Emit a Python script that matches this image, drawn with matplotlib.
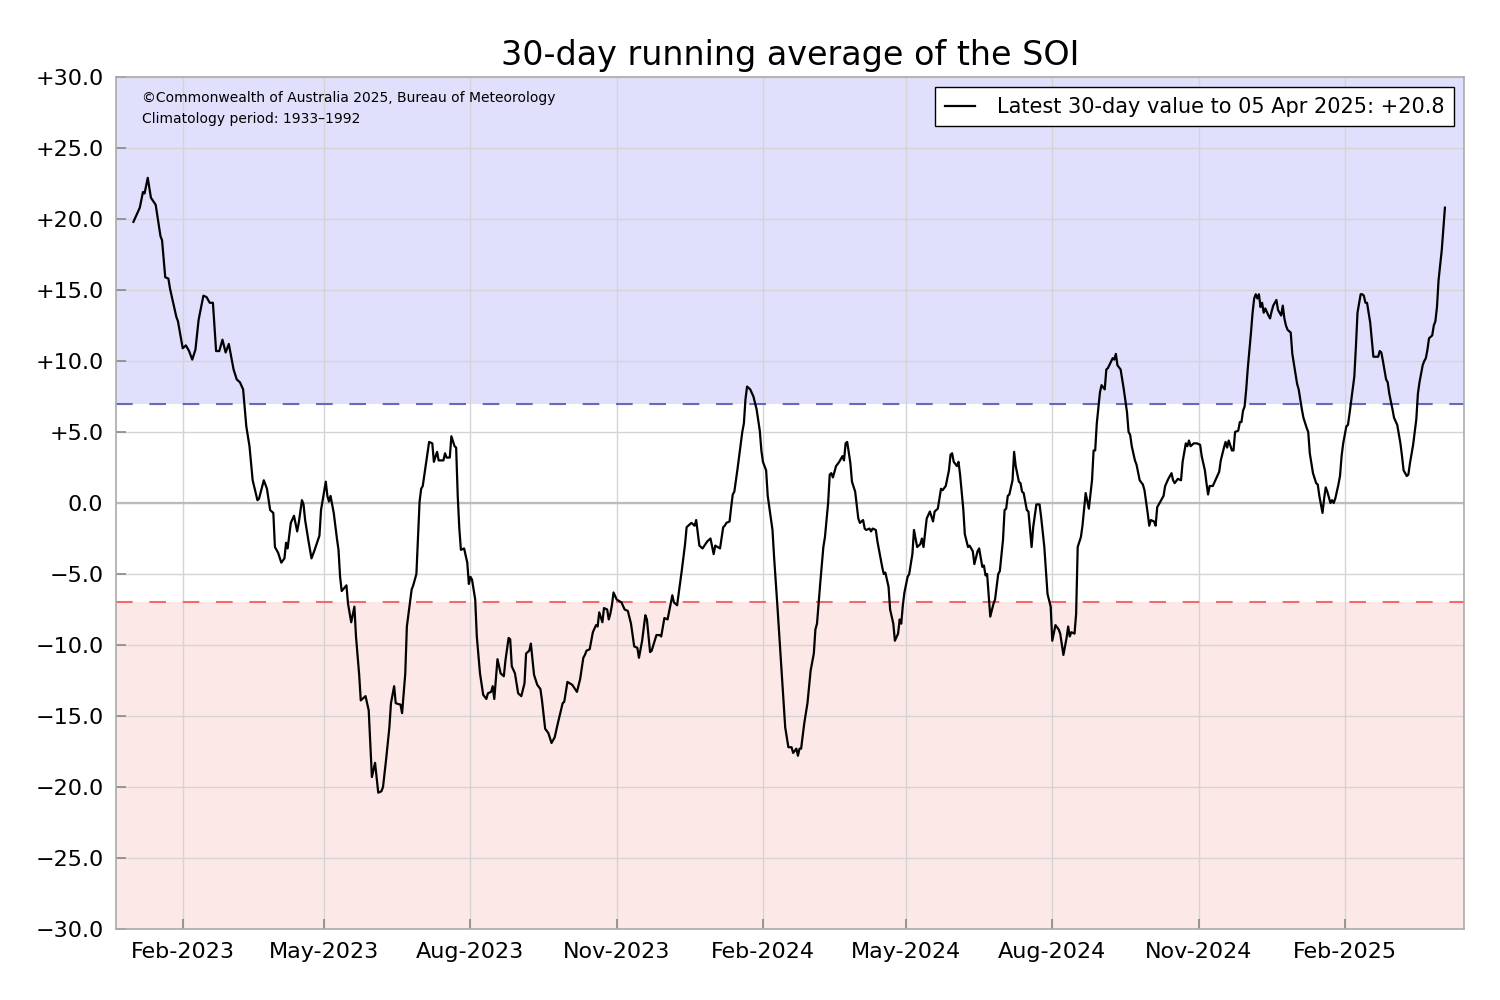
import numpy as np
import pandas as pd
import matplotlib
matplotlib.use("Agg")
import matplotlib.pyplot as plt
import matplotlib.dates as mdates
from matplotlib.ticker import FuncFormatter, MultipleLocator

# 30-day SOI (days counted from 1 Jan 2023)
start = pd.Timestamp("2023-01-01")
day = [0, 4, 6, 7, 9, 11, 14, 17, 18, 20, 22, 23, 27, 28, 31, 33, 35, 37, 39, 41,
       44, 46, 48, 50, 52, 54, 56, 58, 60, 63, 65, 67, 69, 71, 73, 75, 78, 79, 82, 84,
       86, 88, 89, 91, 93, 95, 96, 97, 99, 101, 103, 104, 106, 107, 108, 110, 112, 114, 117, 118,
       121, 122, 123, 124, 126, 128, 129, 130, 131, 134, 135, 137, 139, 140, 142, 143, 146, 148, 150, 152,
       154, 156, 157, 159, 161, 162, 164, 165, 168, 169, 171, 172, 175, 176, 178, 180, 181, 182, 186, 188,
       189, 191, 192, 195, 196, 197, 199, 200, 202, 203, 204, 205, 206, 208, 210, 211, 212, 213, 215, 216,
       218, 220, 222, 223, 225, 226, 227, 229, 231, 233, 234, 236, 237, 238, 240, 242, 244, 246, 247, 249,
       250, 252, 254, 256, 257, 259, 261, 263, 265, 267, 270, 271, 273, 276, 279, 281, 283, 284, 285, 287,
       289, 291, 292, 293, 295, 296, 298, 299, 300, 301, 302, 304, 307, 309, 311, 313, 315, 317, 318, 320,
       322, 323, 325, 326, 329, 331, 332, 334, 336, 339, 340, 342, 345, 346, 347, 348, 351, 353, 354, 356,
       358, 361, 363, 365, 366, 369, 371, 372, 373, 375, 376, 377, 378, 380, 383, 384, 385, 386, 388, 390,
       392, 394, 395, 396, 398, 399, 402, 403, 405, 407, 409, 410, 412, 414, 415, 417, 418, 419, 420, 422,
       424, 426, 428, 429, 430, 432, 434, 435, 437, 438, 439, 440, 442, 444, 446, 447, 448, 449, 451, 452,
       454, 456, 457, 459, 460, 461, 463, 464, 465, 467, 468, 469, 471, 472, 473, 475, 476, 478, 479, 481,
       482, 483, 484, 485, 487, 488, 490, 491, 493, 495, 496, 497, 499, 501, 503, 504, 506, 508, 509, 511,
       513, 514, 515, 516, 518, 519, 520, 522, 523, 525, 526, 528, 529, 531, 532, 534, 535, 536, 537, 539,
       541, 542, 544, 545, 547, 548, 549, 550, 551, 553, 554, 555, 557, 558, 559, 560, 562, 563, 565, 566,
       568, 570, 571, 573, 575, 577, 578, 580, 582, 583, 585, 587, 588, 589, 590, 592, 593, 594, 596, 597,
       599, 601, 603, 604, 605, 606, 608, 609, 611, 612, 613, 616, 617, 618, 619, 621, 623, 625, 626, 627,
       628, 630, 631, 633, 635, 636, 638, 639, 640, 642, 643, 644, 646, 648, 649, 651, 653, 654, 655, 657,
       659, 660, 662, 663, 664, 665, 667, 669, 671, 672, 674, 675, 676, 677, 679, 681, 683, 684, 686, 687,
       688, 689, 691, 692, 693, 695, 696, 697, 698, 699, 700, 701, 703, 704, 705, 706, 707, 708, 709, 710,
       711, 712, 714, 715, 716, 717, 719, 720, 722, 723, 724, 725, 726, 728, 729, 732, 733, 735, 736, 738,
       739, 740, 742, 744, 745, 746, 748, 749, 750, 751, 753, 754, 755, 756, 758, 759, 760, 761, 763, 764,
       765, 767, 768, 769, 770, 772, 773, 774, 775, 776, 778, 780, 782, 783, 784, 785, 786, 788, 789, 790,
       792, 793, 795, 797, 798, 799, 801, 802, 803, 805, 807, 808, 809, 811, 812, 813, 814, 815, 817, 818,
       819, 820, 821, 823, 825]
soi = [19.8, 20.8, 21.9, 21.8, 22.9, 21.5, 21.0, 18.8, 18.5, 15.9, 15.8, 15.1, 13.1, 12.8, 10.9, 11.1, 10.7, 10.1, 10.8, 12.9,
       14.6, 14.5, 14.1, 14.1, 10.7, 10.7, 11.5, 10.6, 11.2, 9.4, 8.7, 8.5, 8.0, 5.4, 4.0, 1.6, 0.2, 0.3, 1.6, 1.0,
       -0.5, -0.7, -3.1, -3.5, -4.2, -3.9, -2.8, -3.2, -1.4, -0.9, -2.0, -1.4, 0.2, -0.1, -1.2, -2.6, -3.9, -3.3, -2.3, -0.5,
       1.5, 0.5, 0.1, 0.5, -0.7, -2.5, -3.3, -5.2, -6.2, -5.8, -7.1, -8.4, -7.3, -9.4, -12.1, -13.9, -13.6, -14.6, -19.3, -18.3,
       -20.4, -20.3, -20.0, -18.0, -15.8, -14.1, -12.9, -14.1, -14.2, -14.8, -12.0, -8.7, -6.1, -5.8, -5.0, 0.1, 1.0, 1.2, 4.3, 4.2,
       2.9, 3.6, 3.0, 3.0, 3.5, 3.2, 3.2, 4.7, 4.0, 3.9, 0.5, -1.8, -3.3, -3.2, -4.2, -5.7, -5.2, -5.4, -6.8, -9.4,
       -12.0, -13.5, -13.8, -13.4, -13.3, -12.9, -13.8, -11.0, -12.0, -12.2, -11.1, -9.5, -9.6, -11.5, -12.0, -13.4, -13.6, -12.7, -10.6, -10.4,
       -9.9, -12.1, -12.8, -13.1, -13.9, -15.9, -16.2, -16.9, -16.5, -15.5, -14.1, -14.0, -12.6, -12.8, -13.3, -12.4, -10.9, -10.7, -10.4, -10.3,
       -9.1, -8.6, -8.7, -7.7, -8.4, -7.4, -7.5, -8.2, -7.8, -7.2, -6.3, -6.8, -7.0, -7.5, -7.6, -8.5, -10.1, -10.2, -10.9, -9.7,
       -7.9, -8.2, -10.5, -10.4, -9.3, -9.3, -9.4, -8.1, -8.2, -6.5, -7.0, -7.2, -4.7, -3.8, -2.9, -1.7, -1.4, -1.6, -1.2, -3.0,
       -3.2, -2.7, -2.5, -3.6, -3.0, -3.2, -1.7, -1.6, -1.4, -1.3, -0.3, 0.6, 0.8, 2.4, 5.0, 5.6, 7.3, 8.2, 8.0, 7.5,
       6.6, 5.1, 3.7, 2.9, 2.3, 0.5, -1.9, -3.8, -7.1, -10.6, -14.1, -15.8, -17.2, -17.2, -17.6, -17.3, -17.8, -17.3, -17.3, -15.5,
       -14.1, -11.8, -10.6, -8.9, -8.5, -5.7, -3.1, -2.4, 0.0, 2.0, 2.1, 1.8, 2.6, 2.9, 3.3, 3.0, 4.2, 4.3, 2.8, 1.5,
       0.8, -1.1, -1.4, -1.2, -1.8, -1.9, -1.8, -2.0, -1.8, -1.9, -2.7, -3.3, -4.5, -5.0, -4.9, -5.9, -7.5, -8.5, -9.7, -9.2,
       -8.2, -8.5, -7.2, -6.3, -5.2, -5.0, -3.6, -1.9, -3.1, -2.9, -2.5, -3.1, -1.1, -0.6, -1.3, -0.6, -0.4, 1.0, 0.9, 1.2,
       2.3, 3.4, 3.5, 2.9, 2.6, 2.9, 2.0, -0.4, -2.2, -3.1, -3.0, -3.4, -4.3, -3.4, -3.2, -4.5, -4.4, -5.1, -5.0, -8.0,
       -7.1, -6.8, -5.0, -4.8, -2.6, -0.5, -0.4, 0.5, 0.6, 1.6, 3.6, 2.6, 1.5, 1.4, 0.8, 0.7, -0.5, -0.6, -3.1, -1.7,
       -0.1, -0.1, -1.0, -3.1, -6.4, -7.3, -9.7, -8.6, -8.9, -9.2, -10.7, -9.5, -8.7, -9.4, -9.1, -9.2, -7.8, -3.1, -2.4, -1.6,
       0.7, -0.4, 1.6, 3.7, 3.7, 5.6, 7.8, 8.3, 8.0, 9.4, 9.5, 10.2, 10.1, 10.5, 9.7, 9.4, 8.0, 6.4, 5.0, 4.8,
       4.0, 3.0, 2.7, 1.6, 1.3, 0.9, -0.7, -1.6, -1.2, -1.3, -1.6, -0.3, 0.1, 0.5, 1.2, 1.7, 2.1, 1.6, 1.4, 1.7,
       1.6, 2.9, 4.2, 4.0, 4.4, 4.0, 4.2, 4.2, 4.1, 3.3, 2.3, 1.4, 0.6, 1.2, 1.2, 1.7, 2.2, 3.0, 3.9, 4.3,
       3.9, 4.4, 3.7, 3.7, 5.0, 5.1, 5.7, 5.7, 6.5, 6.8, 8.0, 9.5, 12.0, 13.4, 14.4, 14.7, 14.4, 14.7, 13.8, 14.1,
       13.4, 13.7, 13.2, 13.0, 13.5, 13.9, 14.3, 13.6, 13.2, 13.9, 13.0, 12.5, 12.2, 12.0, 10.5, 8.4, 8.0, 6.6, 6.0, 5.3,
       5.0, 3.5, 2.1, 1.4, 1.3, 0.5, -0.7, 0.3, 1.1, 0.8, 0.0, 0.2, 0.0, 0.3, 1.3, 1.9, 3.3, 4.2, 5.4, 5.5,
       6.3, 8.0, 8.9, 11.0, 13.4, 14.7, 14.7, 14.6, 14.1, 14.1, 12.7, 10.3, 10.3, 10.3, 10.7, 10.6, 10.0, 8.7, 8.5, 7.7,
       6.6, 6.0, 5.5, 4.2, 3.3, 2.3, 1.9, 2.0, 2.8, 4.1, 5.9, 7.7, 8.5, 9.7, 10.0, 10.2, 10.8, 11.6, 11.8, 12.5,
       12.8, 13.8, 15.7, 17.8, 20.8]

upper = 7.0
lower = -7.0

dates = start + pd.to_timedelta(day, unit="D")

fig = plt.figure(figsize=(15, 10), dpi=100)
ax = fig.add_axes([0.0773, 0.071, 0.8987, 0.852])

# shaded La Nina / El Nino bands
ax.axhspan(upper, 30, color="#e0e0fd", zorder=0, lw=0)
ax.axhspan(-30, lower, color="#fde8e8", zorder=0, lw=0)
ax.grid(True, color="#d4d4d4", lw=1.0, zorder=1)
ax.axhline(0, color="#bbbbbb", lw=1.6, zorder=2)
ax.axhline(upper, color="#6868b8", lw=1.5, ls=(0, (8, 8)), zorder=2)
ax.axhline(lower, color="#f46a6a", lw=1.5, ls=(0, (8, 8)), zorder=2)

label = "Latest 30-day value to %s: %+.1f" % (dates[-1].strftime("%d %b %Y"), soi[-1])
ax.plot(dates, soi, color="black", lw=1.6, zorder=3, label=label)

ax.set_ylim(-30, 30)
ax.set_xlim(start - pd.Timedelta(days=11), start + pd.Timedelta(days=837))
ax.yaxis.set_major_locator(MultipleLocator(5))


def fmt(v, pos):
    if abs(v) < 1e-9:
        return "0.0"
    if v > 0:
        return "+%.1f" % v
    return "\u2212%.1f" % abs(v)


ax.yaxis.set_major_formatter(FuncFormatter(fmt))
ax.xaxis.set_major_locator(mdates.MonthLocator(bymonth=[2, 5, 8, 11]))
ax.xaxis.set_major_formatter(mdates.DateFormatter("%b-%Y"))
ax.tick_params(direction="in", length=7, width=1.2, color="#888888", labelsize=16, pad=9)

for s in ax.spines.values():
    s.set_color("#aaaaaa")
    s.set_linewidth(1.2)

ax.set_title("30-day running average of the SOI", fontsize=24, pad=9)

ax.text(0.019, 0.975, "\u00a9Commonwealth of Australia 2025, Bureau of Meteorology",
        transform=ax.transAxes, fontsize=10, va="center")
ax.text(0.019, 0.951, "Climatology period: 1933\u20131992",
        transform=ax.transAxes, fontsize=10, va="center")

leg = ax.legend(loc="upper right", fontsize=15, fancybox=False, framealpha=1,
                handlelength=1.45, handletextpad=1.05, borderpad=0.45)
leg.get_frame().set_edgecolor("black")
leg.get_frame().set_linewidth(1.0)

fig.savefig("out.png", dpi=100)
